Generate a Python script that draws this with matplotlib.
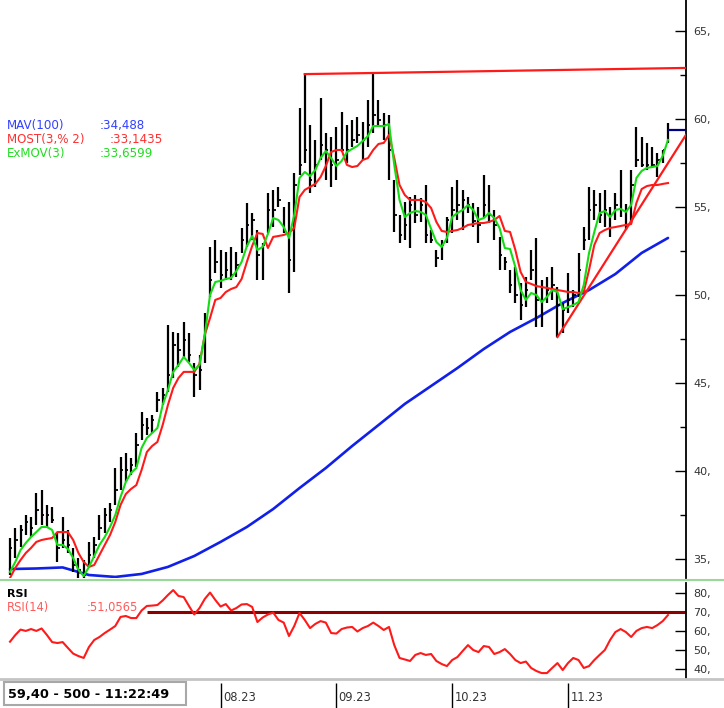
import matplotlib
matplotlib.use("Agg")
import matplotlib.pyplot as plt
from matplotlib.lines import Line2D
from matplotlib.patches import Rectangle

# ---------------- data ----------------
high = [36.19, 36.76, 36.93, 37.50, 37.39, 38.75, 38.92, 38.07, 37.95, 36.48,
        37.39, 36.65, 35.63, 35.06, 34.94, 35.97, 36.25, 37.50, 37.90, 38.18,
        40.17, 40.80, 41.02, 40.74, 42.16, 43.35, 43.01, 43.18, 44.49, 44.72,
        48.30, 47.90, 47.84, 48.47, 47.84, 46.14, 46.60, 48.98, 52.73, 53.13,
        52.56, 52.44, 52.73, 52.44, 53.81, 55.23, 54.66, 53.69, 52.95, 55.80,
        55.97, 56.14, 55.00, 55.28, 56.93, 60.63, 62.61, 59.66, 58.81, 61.19,
        59.20, 58.98, 59.55, 60.40, 59.66, 59.94, 60.11, 59.83, 61.08, 62.61,
        61.08, 60.34, 60.23, 56.53, 54.55, 55.28, 55.57, 55.68, 55.51, 56.25,
        53.69, 52.56, 53.13, 54.43, 56.14, 56.53, 55.97, 55.57, 55.23, 55.00,
        56.82, 56.25, 54.83, 53.30, 52.16, 51.42, 51.59, 50.68, 51.02, 52.56,
        53.24, 50.85, 51.02, 51.59, 50.45, 49.55, 51.25, 50.28, 52.39, 53.86,
        56.14, 55.97, 55.80, 55.97, 55.00, 55.80, 57.10, 55.17, 57.10, 59.55,
        58.98, 58.64, 58.41, 58.07, 58.24, 59.77]
low = [34.09, 35.06, 35.68, 36.36, 36.25, 36.93, 36.93, 36.82, 37.05, 34.83,
       35.63, 35.34, 34.26, 33.92, 33.92, 34.55, 35.06, 36.08, 36.48, 37.10,
       38.07, 38.92, 39.38, 39.77, 40.23, 41.76, 42.05, 42.16, 43.35, 43.75,
       44.49, 45.28, 45.91, 46.48, 46.19, 44.20, 44.60, 46.14, 49.89, 51.25,
       50.40, 50.85, 50.85, 51.02, 52.39, 52.73, 53.13, 50.85, 50.85, 53.52,
       53.86, 55.00, 53.52, 50.11, 51.31, 56.82, 57.50, 55.80, 56.14, 57.67,
       56.53, 56.14, 56.53, 58.10, 57.50, 58.41, 58.64, 57.67, 58.41, 59.20,
       59.55, 58.81, 56.53, 53.58, 52.95, 53.13, 52.67, 54.09, 54.15, 52.95,
       52.95, 51.59, 51.99, 52.95, 53.52, 54.26, 53.69, 54.66, 53.86, 52.95,
       54.38, 54.09, 53.13, 51.42, 51.42, 50.11, 49.55, 48.58, 49.32, 50.85,
       48.18, 48.18, 49.55, 49.72, 47.61, 47.84, 48.98, 49.32, 49.89, 52.56,
       53.13, 54.26, 54.09, 53.86, 53.30, 54.26, 54.43, 53.69, 54.09, 57.27,
       57.27, 57.10, 57.22, 56.70, 57.50, 58.64]
close = [35.63, 36.08, 36.65, 37.10, 36.76, 37.78, 37.50, 37.50, 37.22, 35.63,
         36.08, 35.80, 34.66, 34.38, 34.09, 35.23, 35.80, 36.76, 37.50, 37.78,
         38.92, 40.06, 40.06, 40.34, 41.48, 42.61, 42.44, 42.90, 44.03, 44.32,
         45.45, 47.16, 46.88, 47.44, 46.60, 45.45, 45.74, 48.01, 50.85, 51.88,
         51.14, 51.42, 51.14, 51.70, 53.13, 54.00, 54.26, 52.27, 52.84, 54.83,
         54.83, 55.40, 53.69, 51.99, 56.25, 57.39, 58.24, 56.53, 57.39, 58.52,
         58.24, 57.39, 57.67, 58.24, 58.24, 58.81, 59.09, 58.81, 59.66, 60.23,
         59.94, 59.66, 58.24, 54.55, 53.41, 53.98, 55.11, 54.55, 55.11, 53.41,
         53.13, 52.10, 52.84, 54.26, 54.83, 55.11, 55.40, 55.11, 54.20, 53.98,
         55.11, 54.55, 53.98, 52.27, 51.88, 50.57, 50.00, 49.43, 50.28, 51.42,
         49.72, 49.72, 50.28, 50.57, 49.43, 49.15, 49.72, 50.00, 51.42, 53.13,
         54.83, 55.11, 54.55, 54.83, 54.55, 55.11, 54.83, 54.83, 56.25, 57.67,
         57.39, 57.39, 57.39, 57.67, 58.24, 59.40]
ema3 = [34.26, 34.83, 35.51, 35.91, 36.25, 36.53, 36.82, 36.82, 36.65, 35.80,
        35.80, 35.57, 35.06, 34.38, 34.03, 34.55, 35.17, 35.80, 36.25, 36.82,
        37.50, 38.52, 39.38, 39.89, 40.17, 41.31, 41.88, 42.16, 42.44, 43.75,
        44.60, 45.63, 46.02, 46.48, 46.14, 45.74, 46.02, 47.73, 50.00, 50.74,
        50.80, 50.91, 50.97, 51.36, 51.88, 52.78, 53.35, 52.56, 52.73, 53.47,
        54.37, 54.26, 53.86, 53.24, 54.55, 56.65, 56.99, 56.76, 57.10, 57.78,
        58.18, 57.78, 57.33, 57.61, 58.12, 58.30, 58.47, 58.75, 59.03, 59.60,
        59.60, 59.60, 59.71, 57.39, 55.40, 54.43, 54.66, 54.77, 54.72, 54.55,
        53.75, 53.01, 52.73, 53.24, 54.43, 54.66, 54.83, 55.11, 54.83, 54.26,
        54.37, 54.66, 54.37, 53.81, 52.67, 52.61, 51.59, 50.28, 49.72, 50.11,
        50.00, 49.60, 49.89, 50.28, 50.17, 49.20, 49.31, 49.43, 49.60, 50.57,
        52.39, 53.58, 54.66, 54.77, 54.43, 54.83, 54.89, 54.72, 55.11, 56.65,
        57.05, 57.22, 57.27, 57.33, 57.90, 58.81]
most = [33.92, 34.49, 34.94, 35.34, 35.63, 35.97, 36.08, 36.14, 36.19, 36.53,
        36.53, 36.53, 36.08, 35.34, 34.83, 34.55, 34.66, 35.23, 35.80, 36.36,
        37.10, 38.07, 38.69, 38.98, 39.20, 40.06, 41.08, 41.42, 41.65, 42.61,
        43.75, 44.72, 45.28, 45.63, 45.63, 45.63, 46.08, 47.73, 48.69, 49.72,
        49.83, 50.17, 50.34, 50.45, 50.91, 51.88, 52.78, 53.52, 53.47, 52.67,
        53.30, 53.35, 53.41, 53.52, 53.81, 55.57, 55.97, 56.14, 56.31, 56.70,
        57.33, 58.12, 58.24, 58.24, 57.39, 57.27, 57.33, 57.67, 57.78, 58.24,
        58.58, 58.64, 59.09, 57.78, 56.25, 55.68, 55.40, 55.40, 55.40, 55.28,
        54.94, 54.15, 53.64, 53.58, 53.64, 53.69, 53.81, 53.98, 54.03, 54.09,
        54.09, 54.15, 54.26, 54.49, 53.64, 53.58, 52.56, 51.31, 50.74, 50.63,
        50.51, 50.45, 50.40, 50.34, 50.28, 50.23, 50.17, 50.17, 50.11, 50.17,
        51.42, 52.84, 53.52, 53.69, 53.81, 53.86, 53.92, 53.98, 54.03, 55.23,
        56.02, 56.19, 56.25, 56.25, 56.31, 56.36]
mav_idx = [0, 5, 10, 15, 20, 25, 30, 35, 40, 45, 50, 55, 60, 65, 70, 75, 80,
           85, 90, 95, 100, 105, 110, 115, 120, 125]
mav = [34.43, 34.46, 34.52, 34.09, 33.98, 34.15, 34.55, 35.17, 35.97, 36.82,
       37.84, 39.03, 40.17, 41.42, 42.61, 43.81, 44.83, 45.85, 46.93, 47.90,
       48.69, 49.55, 50.28, 51.19, 52.39, 53.24]
rsi = [54.4, 57.9, 60.8, 60.1, 61.1, 60.1, 61.4, 58.0, 54.2, 53.7,
       54.2, 51.1, 48.1, 46.8, 45.8, 51.6, 55.3, 56.9, 59.0, 60.8,
       62.7, 67.5, 68.0, 66.9, 66.9, 70.9, 73.3, 73.5, 73.8, 76.2,
       79.1, 81.7, 78.6, 78.0, 73.3, 68.8, 72.2, 77.0, 80.4, 76.5,
       73.0, 74.3, 70.9, 72.2, 74.1, 74.3, 72.8, 64.8, 67.2, 68.8,
       69.8, 65.9, 64.5, 57.4, 62.7, 69.6, 65.9, 61.6, 63.8, 65.3,
       64.5, 59.0, 58.7, 61.1, 61.9, 62.2, 59.8, 61.6, 62.7, 64.5,
       62.7, 60.6, 62.2, 52.6, 45.8, 45.0, 44.2, 47.4, 48.4, 47.4,
       47.9, 44.2, 42.6, 41.5, 44.7, 46.3, 49.5, 52.6, 50.0, 48.9,
       52.1, 51.6, 47.9, 48.9, 50.5, 47.9, 44.7, 43.1, 43.9, 40.5,
       38.9, 37.8, 37.8, 40.5, 43.1, 39.4, 43.1, 45.8, 44.7, 40.5,
       41.5, 44.7, 47.4, 50.0, 55.3, 59.5, 61.1, 59.5, 56.9, 60.1,
       61.6, 62.2, 61.6, 63.2, 65.3, 68.5]
month_idx = [40, 62, 84, 106]
month_labels = ["08.23", "09.23", "10.23", "11.23"]
price_ticks = [35, 40, 45, 50, 55, 60, 65]
price_minor = [37.5, 42.5, 47.5, 52.5, 57.5, 62.5]
rsi_ticks = [40, 50, 60, 70, 80]
rsi_level = 70
rsi_level_start = 26
res_x = [56, 128.4]
res_y = [62.55, 62.90]
sup_x = [104, 128.4]
sup_y = [47.61, 59.09]
last_price = 59.40
legend_names = ["MAV(100)", "MOST(3,% 2)", "ExMOV(3)"]
legend_values = [":34,488", ":33,1435", ":33,6599"]
rsi_value = ":51,0565"
status = "59,40 - 500 - 11:22:49"

# ---------------- layout ----------------
W, H = 724, 708
fig = plt.figure(figsize=(W / 100, H / 100), dpi=100)
fig.patch.set_facecolor("white")


def fx(px):
    return px / W


def fy(py):
    return 1 - py / H


XMIN, XMAX = -1.9, 128.42
n = len(close)
idx = list(range(n))

C_BLUE = "#1020e8"
C_RED = "#ff1a1a"
C_GREEN = "#14dc14"
C_TXT = "#333333"

ax = fig.add_axes([0, fy(578), fx(686), 578 / H])
ax.set_xlim(XMIN, XMAX)
ax.set_ylim(33.92, 66.76)
for s in ["left", "top", "bottom"]:
    ax.spines[s].set_visible(False)
ax.spines["right"].set_color("black")
ax.spines["right"].set_linewidth(1.3)
ax.set_xticks([])
ax.yaxis.tick_right()
ax.set_yticks(price_ticks)
ax.set_yticklabels([f"{v}," for v in price_ticks])
ax.set_yticks(price_minor, minor=True)
ax.tick_params(axis="y", which="major", direction="in", length=8, width=1,
               pad=5, labelsize=8, labelcolor=C_TXT)
ax.tick_params(axis="y", which="minor", direction="in", length=4, width=1)

# MAV
ax.plot(mav_idx, mav, color=C_BLUE, lw=1.9, solid_capstyle="round", zorder=2)
# bars
ax.vlines(idx, low, high, color="black", lw=1.6, zorder=3)
ax.hlines(close, [i for i in idx], [i + 0.45 for i in idx], color="black",
          lw=1.3, zorder=3)
# MOST & EMA
ax.plot(idx, most, color=C_RED, lw=1.5, zorder=4)
ax.plot(idx, ema3, color=C_GREEN, lw=1.5, zorder=5)
# trend lines
ax.plot(res_x, res_y, color=C_RED, lw=1.6, zorder=4)
ax.plot(sup_x, sup_y, color=C_RED, lw=1.6, zorder=4)
ax.hlines(last_price, n - 1, XMAX, color="#000080", lw=1.6, zorder=4)

# legend texts
leg_colors = ["#3340ff", "#ff3030", "#22dd22"]
leg_y = [125, 140, 154]
leg_vx = [100, 110, 100]
for name, val, c, yy, vx in zip(legend_names, legend_values, leg_colors,
                                leg_y, leg_vx):
    fig.text(fx(7), fy(yy), name, color=c, fontsize=8.6, va="center",
             ha="left")
    fig.text(fx(vx), fy(yy), val, color=c, fontsize=8.6, va="center",
             ha="left")

# ---------------- RSI panel ----------------
rax = fig.add_axes([0, fy(678), fx(686), 95 / H])
rax.set_xlim(XMIN, XMAX)
rax.set_ylim(35.2, 85.45)
for s in ["left", "top", "bottom"]:
    rax.spines[s].set_visible(False)
rax.spines["right"].set_linewidth(1.3)
rax.set_xticks([])
rax.yaxis.tick_right()
rax.set_yticks(rsi_ticks)
rax.set_yticklabels([f"{v}," for v in rsi_ticks])
rax.tick_params(axis="y", which="major", direction="in", length=8, width=1,
                pad=5, labelsize=8, labelcolor=C_TXT)
rax.hlines(rsi_level, rsi_level_start, XMAX, color="#8b0000", lw=2.2,
           zorder=2)
rax.plot(idx, rsi, color=C_RED, lw=1.5, zorder=3)

fig.text(fx(7), fy(594), "RSI", color="black", fontsize=8, weight="bold",
         va="center", ha="left")
fig.text(fx(7), fy(607.5), "RSI(14)", color="#ff5a5a", fontsize=8.3,
         va="center", ha="left")
fig.text(fx(87), fy(607.5), rsi_value, color="#ff5a5a", fontsize=8.3,
         va="center", ha="left")

# separators
fig.add_artist(Line2D([0, 1], [fy(579.5)] * 2, color="#98d898", lw=1.5))
fig.add_artist(Line2D([0, 1], [fy(679)] * 2, color="#c4c4c4", lw=2))

# ---------------- date strip ----------------
dax = fig.add_axes([0, 0, fx(686), 28 / H])
dax.set_xlim(XMIN, XMAX)
dax.set_ylim(0, 1)
dax.axis("off")
dax.vlines(month_idx, 0, 0.88, color="black", lw=1)
for m, lab in zip(month_idx, month_labels):
    dax.text(m + 0.45, 0.36, lab, fontsize=8.3, color=C_TXT, ha="left",
             va="center")

fig.add_artist(Rectangle((fx(4), fy(705)), fx(182), 23 / H,
                         transform=fig.transFigure, facecolor="white",
                         edgecolor="#a8a8a8", lw=1.5))
fig.text(fx(8), fy(694), status, fontsize=9.3, weight="bold", color="black",
         va="center", ha="left")

fig.savefig("out.png", dpi=100, facecolor="white")
